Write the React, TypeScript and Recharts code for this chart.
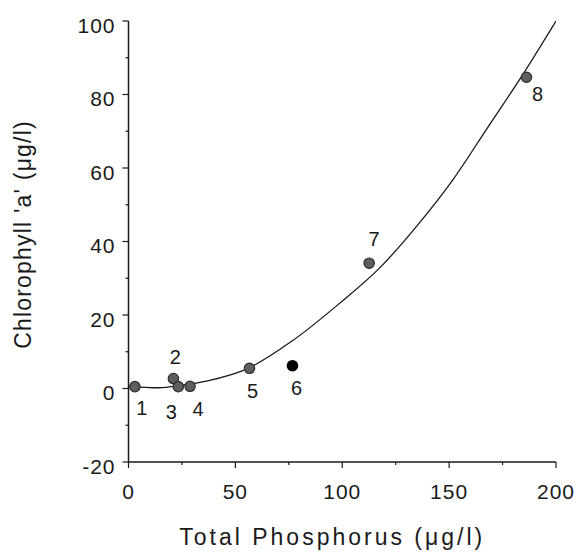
import React from "react";
import { ComposedChart, Scatter, Line, XAxis, YAxis } from "recharts";

// lake sites: total phosphorus vs chlorophyll 'a'
const sites = ["1", "2", "3", "4", "5", "6", "7", "8"];
const phosphorus = [3, 21, 23.3, 28.8, 56.6, 76.7, 112.6, 186.2];
const chlorophyll = [0.5, 2.7, 0.5, 0.6, 5.5, 6.2, 34.1, 84.7];

// fitted curve
const curveP = [0, 14, 25, 37, 56, 76, 99, 118, 136, 152, 168, 184, 200];
const curveChl = [0.6, 0.2, 0.9, 2.1, 5.5, 12.7, 23.3, 33.1, 45, 57, 71, 85, 100];

const xTicks = [0, 25, 50, 75, 100, 125, 150, 175, 200];
const yTicks = [-20, -10, 0, 10, 20, 30, 40, 50, 60, 70, 80, 90, 100];

const solidSites = ["6"];

// label placement relative to each point (px)
const labelOffsets: Record<string, [number, number]> = {
  "1": [7, 21],
  "2": [2, -22],
  "3": [-7, 25],
  "4": [8, 23],
  "5": [3, 23],
  "6": [4, 22],
  "7": [5, -24],
  "8": [11, 17],
};

const FONT = "'Liberation Sans', Arial, Helvetica, sans-serif";
const INK = "#1a1a1a";

const points = sites.map((site, i) => ({ site, x: phosphorus[i], y: chlorophyll[i] }));
const curve = curveP.map((x, i) => ({ x, y: curveChl[i] }));

const SiteDot = (props: any) => {
  const { cx, cy, payload } = props;
  const solid = solidSites.includes(payload.site);
  const [dx, dy] = labelOffsets[payload.site] || [6, 20];
  return (
    <g>
      <circle
        cx={cx}
        cy={cy}
        r={5.2}
        fill={solid ? "#000" : "#5e5e5e"}
        stroke={solid ? "#000" : "#2b2b2b"}
        strokeWidth={1.2}
      />
      <text
        x={cx + dx}
        y={cy + dy}
        textAnchor="middle"
        dominantBaseline="central"
        fontSize={20}
        fontFamily={FONT}
        fill={INK}
      >
        {payload.site}
      </text>
    </g>
  );
};

const YTick = (props: any) => {
  const { x, y, payload } = props;
  const major = payload.value % 20 === 0;
  return (
    <g>
      <line x1={x} x2={x - (major ? 6 : 3)} y1={y} y2={y} stroke={INK} strokeWidth={1.2} />
      {major && (
        <text
          x={x - 13}
          y={y + 4}
          textAnchor="end"
          dominantBaseline="central"
          fontSize={21}
          letterSpacing={1}
          fontFamily={FONT}
          fill={INK}
        >
          {payload.value}
        </text>
      )}
    </g>
  );
};

const XTick = (props: any) => {
  const { x, y, payload } = props;
  const major = payload.value % 50 === 0;
  return (
    <g>
      <line x1={x} x2={x} y1={y} y2={y + (major ? 6 : 3)} stroke={INK} strokeWidth={1.2} />
      {major && (
        <text
          x={x}
          y={y + 29}
          textAnchor="middle"
          dominantBaseline="central"
          fontSize={21}
          letterSpacing={1}
          fontFamily={FONT}
          fill={INK}
        >
          {payload.value}
        </text>
      )}
    </g>
  );
};

const XTitle = (props: any) => {
  const { x, y, width } = props.viewBox;
  return (
    <text
      x={x + width / 2 - 10}
      y={y + 75}
      textAnchor="middle"
      dominantBaseline="central"
      fontSize={23}
      letterSpacing={3}
      fontFamily={FONT}
      fill={INK}
    >
      Total Phosphorus (μg/l)
    </text>
  );
};

const YTitle = (props: any) => {
  const { y, height } = props.viewBox;
  const cx = 23;
  const cy = y + height / 2 - 7;
  return (
    <text
      x={cx}
      y={cy}
      transform={`rotate(-90, ${cx}, ${cy})`}
      textAnchor="middle"
      dominantBaseline="central"
      fontSize={23}
      letterSpacing={1.2}
      fontFamily={FONT}
      fill={INK}
    >
      Chlorophyll 'a' (μg/l)
    </text>
  );
};

export default function App() {
  return (
    <div style={{ position: "absolute", left: 0, top: 0, width: 578, height: 555, background: "#fff" }}>
      <ComposedChart
        width={578}
        height={555}
        margin={{ top: 21, right: 22, bottom: 0, left: 0 }}
        style={{ fontFamily: FONT }}
      >
        <XAxis
          type="number"
          dataKey="x"
          domain={[0, 200]}
          ticks={xTicks}
          interval={0}
          allowDataOverflow
          height={93}
          tickSize={0}
          tickMargin={0}
          tickLine={false}
          tick={<XTick />}
          axisLine={{ stroke: INK, strokeWidth: 1.5 }}
          label={XTitle}
        />
        <YAxis
          type="number"
          domain={[-20, 100]}
          ticks={yTicks}
          interval={0}
          allowDataOverflow
          width={128.5}
          tickSize={0}
          tickMargin={0}
          tickLine={false}
          tick={<YTick />}
          axisLine={{ stroke: INK, strokeWidth: 1.5 }}
          label={YTitle}
        />
        <Line
          data={curve}
          dataKey="y"
          type="monotone"
          stroke={INK}
          strokeWidth={1.3}
          dot={false}
          activeDot={false}
          isAnimationActive={false}
        />
        <Scatter data={points} dataKey="y" shape={<SiteDot />} isAnimationActive={false} />
      </ComposedChart>
    </div>
  );
}
